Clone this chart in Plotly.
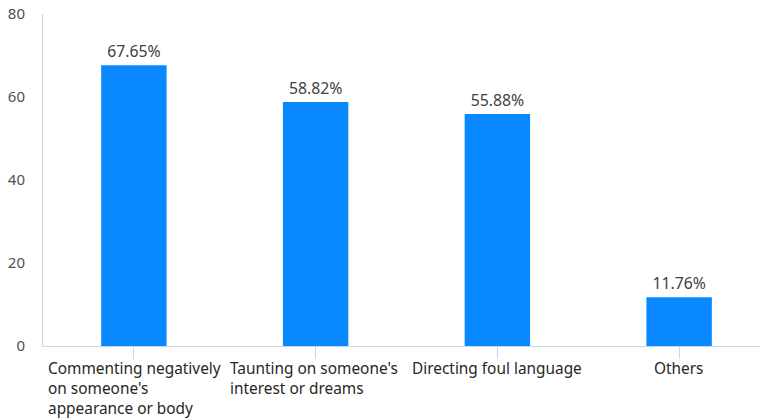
import plotly.graph_objects as go

categories = ["Commenting negatively<br>on someone's<br>appearance or body",
              "Taunting on someone's<br>interest or dreams",
              "Directing foul language",
              "Others"]
values = [67.65, 58.82, 55.88, 11.76]
labels = ["67.65%", "58.82%", "55.88%", "11.76%"]
y_ticks = [0, 20, 40, 60, 80]

FONT = "Noto Sans, Arial, sans-serif"
AXIS = "#c5d7ec"
TXT = "#404040"

x_idx = list(range(len(categories)))

fig = go.Figure(go.Bar(
    x=x_idx, y=values, text=labels, textposition="outside",
    textfont=dict(family=FONT, size=15.8, color=TXT),
    marker=dict(color="#0a88ff", line=dict(width=0)),
    width=0.36, cliponaxis=False,
))

annotations = []
for i, c in enumerate(categories):
    if i < len(categories) - 1:
        annotations.append(dict(x=i - 0.5, y=0, xref="x", yref="y", text=c,
                                showarrow=False, xanchor="left", yanchor="top",
                                align="left", xshift=3, yshift=-10,
                                font=dict(family=FONT, size=15.4, color="#262626")))
    else:
        annotations.append(dict(x=i, y=0, xref="x", yref="y", text=c,
                                showarrow=False, xanchor="center", yanchor="top",
                                align="center", yshift=-10,
                                font=dict(family=FONT, size=15.4, color="#262626")))

fig.update_layout(
    width=760, height=418,
    margin=dict(l=43, r=0, t=14, b=72),
    paper_bgcolor="white", plot_bgcolor="white",
    showlegend=False,
    annotations=annotations,
    xaxis=dict(range=[-0.5, 3.445], tickmode="array", tickvals=x_idx,
               showticklabels=False, showgrid=False, zeroline=False,
               showline=True, linecolor=AXIS, linewidth=1,
               ticks="outside", ticklen=12, tickcolor=AXIS, tickwidth=1,
               tickson="boundaries", type="linear"),
    yaxis=dict(range=[0, 80], tickvals=y_ticks, showgrid=False, zeroline=False,
               showline=True, linecolor=AXIS, linewidth=1, ticks="",
               tickfont=dict(family=FONT, size=15, color="#505050"),
               ticklabelstandoff=14),
)

fig.write_html("out.html")
